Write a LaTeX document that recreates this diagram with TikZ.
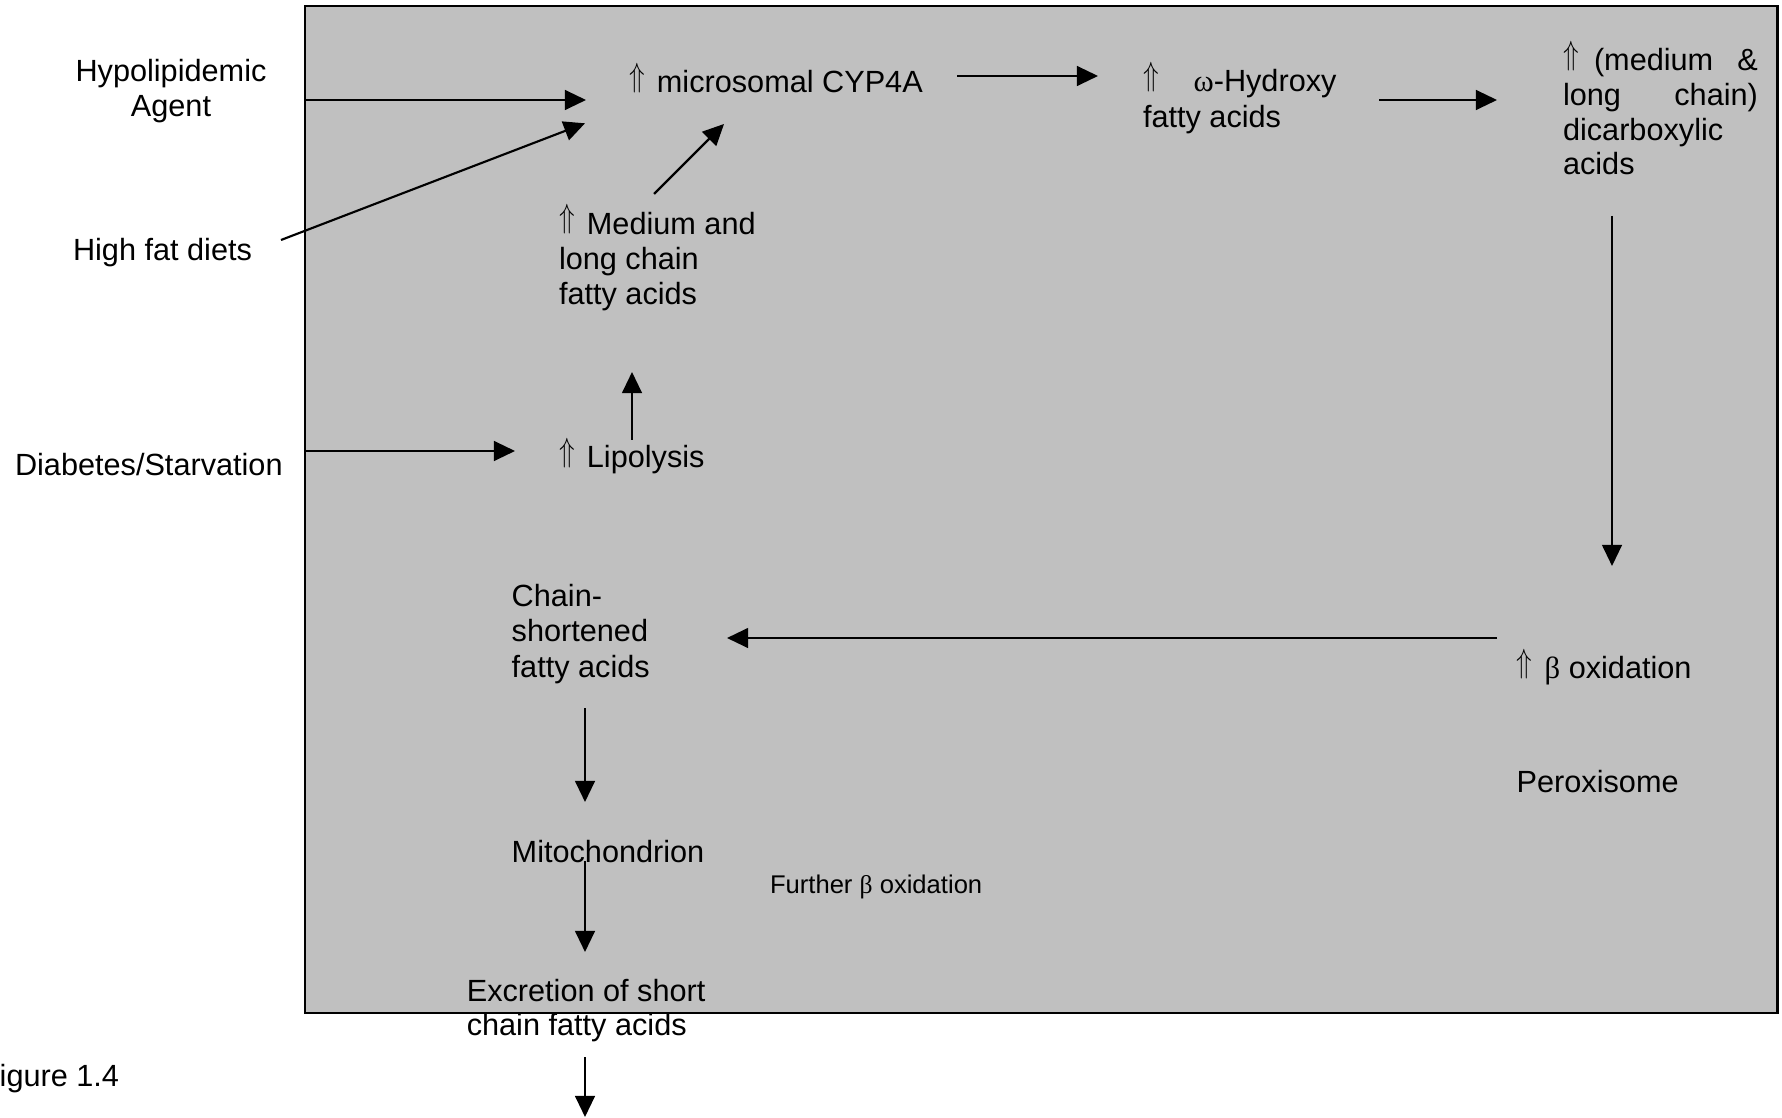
\documentclass[tikz,border=0pt]{standalone}
\usepackage{fontspec}
\setmainfont{Liberation Sans}
\newfontfamily\greekserif{Liberation Serif}
\usetikzlibrary{arrows.meta}
\definecolor{cellgray}{HTML}{C0C0C0}
% raised "increase" double arrow used in front of the labels
\newcommand{\incrmark}{\raisebox{0.2em}{\scalebox{0.8}[1.05]{$\Uparrow$}}}
\newcommand{\incr}{\incrmark\hspace{0.4em}}
\newcommand{\gomega}{{\greekserif ω}}
\newcommand{\gbeta}{{\greekserif β}}

\begin{document}
\begin{tikzpicture}[x=0.375pt,y=-0.375pt,
  font=\fontsize{11.5}{13.3}\selectfont,
  lbl/.style={inner sep=0pt, outer sep=0pt, anchor=base west, align=left},
  arr/.style={line width=0.8pt, -{Triangle[length=7.9pt,width=7.4pt]}},
  cellbox/.style={fill=cellgray, draw=black, line width=0.8pt}]

\useasboundingbox (0,0) rectangle (1782,1118);

% the cell compartment
\draw[cellbox] (305,6) rectangle (1777.5,1012.7);

% inputs outside the cell (multi-line labels are placed by their last line)
\node[inner sep=0pt, anchor=base, align=center] (hypo) at (171,117) {Hypolipidemic\\Agent};
\node[lbl] (hfd)  at (73,260.7) {High fat diets};
\node[lbl] (diab) at (15,476) {Diabetes/Starvation};

% microsomal pathway
\node[lbl] (cyp)   at (629,92.7)  {\incr microsomal CYP4A};
\node[lbl] (mlcfa) at (559,305)   {\incr Medium and\\long chain\\fatty acids};
\node[lbl] (lipo)  at (559,467.7) {\incr Lipolysis};
\node[lbl] (ohfa)  at (1143,127.3) {\incr\hspace{0.74em}\gomega-Hydroxy\\fatty acids};
\node[lbl, font=\fontsize{11.5}{13.1}\selectfont] (dca) at (1563,175)
  {\makebox[73.1pt][l]{\incrmark\hspace{0.5em}(medium\hfill\&}\\
   \makebox[73.1pt][l]{long\hfill chain)}\\dicarboxylic\\acids};

% peroxisome and mitochondrion
\node[lbl] (beta)  at (1516.7,678.3) {\incr\gbeta\ oxidation};
\node[lbl] (perox) at (1516.7,792.3) {Peroxisome};
\node[lbl] (csfa)  at (511.7,677.3)  {Chain-\\shortened\\fatty acids};
\node[lbl] (mito)  at (511.7,862.7)  {Mitochondrion};
\node[lbl, font=\fontsize{9.6}{11}\selectfont] (further) at (770,893) {Further \gbeta\ oxidation};
\node[lbl, font=\fontsize{11.5}{12.5}\selectfont] (excr) at (466.8,1035) {Excretion of short\\chain fatty acids};

% caption
\node[lbl] (fig) at (-19,1086.7) {Figure 1.4};

% connector end points
\coordinate (hypo-s)  at (305,100);    \coordinate (hypo-e)  at (586,100);
\coordinate (hfd-s)   at (281,240);    \coordinate (hfd-e)   at (585,123.3);
\coordinate (mlc-s)   at (654,194);    \coordinate (mlc-e)   at (724,124);
\coordinate (lipo-s)  at (632,440);    \coordinate (lipo-e)  at (632,372);
\coordinate (diab-s)  at (305,451);    \coordinate (diab-e)  at (515,451);
\coordinate (cyp-s)   at (957,76);     \coordinate (cyp-e)   at (1098,76);
\coordinate (ohfa-s)  at (1379,100);   \coordinate (ohfa-e)  at (1497,100);
\coordinate (dca-s)   at (1612,216);   \coordinate (dca-e)   at (1612,566);
\coordinate (beta-s)  at (1497,638);   \coordinate (beta-e)  at (727,638);
\coordinate (csfa-s)  at (585,708);    \coordinate (csfa-e)  at (585,802);
\coordinate (mito-s)  at (585,861);    \coordinate (mito-e)  at (585,952);
\coordinate (excr-s)  at (585,1057);   \coordinate (excr-e)  at (585,1117);

\draw[arr] (hypo-s) -- (hypo-e);
\draw[arr] (hfd-s)  -- (hfd-e);
\draw[arr] (mlc-s)  -- (mlc-e);
\draw[arr] (lipo-s) -- (lipo-e);
\draw[arr] (diab-s) -- (diab-e);
\draw[arr] (cyp-s)  -- (cyp-e);
\draw[arr] (ohfa-s) -- (ohfa-e);
\draw[arr] (dca-s)  -- (dca-e);
\draw[arr] (beta-s) -- (beta-e);
\draw[arr] (csfa-s) -- (csfa-e);
\draw[arr] (mito-s) -- (mito-e);
\draw[arr] (excr-s) -- (excr-e);
\end{tikzpicture}
\end{document}
